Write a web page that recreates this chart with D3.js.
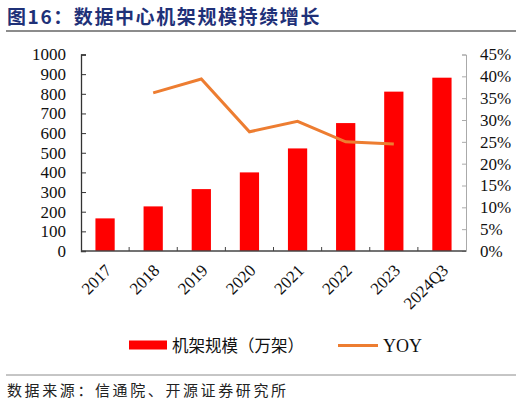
<!DOCTYPE html>
<html>
<head>
<meta charset="utf-8">
<script src="https://cdn.jsdelivr.net/npm/d3@7"></script>
<style>
  body { margin: 0; background: #fff; }
  svg text { font-family: "Liberation Serif", "Noto Sans CJK SC", serif; }
</style>
</head>
<body>
<div id="container"></div>
<script>
// Data
var categories = ['2017', '2018', '2019', '2020', '2021', '2022', '2023', '2024Q3'];
var rackValues = [166, 227, 315, 400, 522, 651, 811, 882];
var yoyCategories = ['2018', '2019', '2020', '2021', '2022', '2023'];
var yoyValues = [0.362, 0.394, 0.273, 0.297, 0.250, 0.245];
var leftTicks = [0, 100, 200, 300, 400, 500, 600, 700, 800, 900, 1000];
var rightTicks = [0, 0.05, 0.10, 0.15, 0.20, 0.25, 0.30, 0.35, 0.40, 0.45];

var WIDTH = 522,
    HEIGHT = 405;

var plot = { left: 81, right: 466, top: 54.5, bottom: 251 };

var svg = d3.select('#container')
    .append('svg')
    .attr('width', WIDTH)
    .attr('height', HEIGHT);

// Title and rules
svg.append('text')
    .attr('x', 7)
    .attr('y', 24)
    .attr('fill', '#1F3178')
    .style('font-family', '"Noto Sans CJK SC", sans-serif')
    .style('font-weight', 'bold')
    .style('font-size', '19px')
    .style('letter-spacing', '1.6px')
    .text('图16：数据中心机架规模持续增长');

svg.append('line')
    .attr('x1', 6).attr('x2', 516)
    .attr('y1', 31).attr('y2', 31)
    .attr('stroke', '#8c8c8c')
    .attr('stroke-width', 2);

svg.append('line')
    .attr('x1', 6).attr('x2', 516)
    .attr('y1', 375).attr('y2', 375)
    .attr('stroke', '#8c8c8c')
    .attr('stroke-width', 1);

svg.append('text')
    .attr('x', 7)
    .attr('y', 396)
    .attr('fill', '#222')
    .style('font-family', '"Noto Sans CJK SC", sans-serif')
    .style('font-size', '15px')
    .style('letter-spacing', '2.6px')
    .text('数据来源：信通院、开源证券研究所');

// Scales
var x = d3.scaleBand()
    .domain(categories)
    .range([plot.left, plot.right])
    .paddingInner(0.6)
    .paddingOuter(0.3);

var xTicks = d3.scaleLinear()
    .domain([0, categories.length])
    .range([plot.left, plot.right]);

var yLeft = d3.scaleLinear()
    .domain([0, 1000])
    .range([plot.bottom, plot.top]);

var yRight = d3.scaleLinear()
    .domain([0, 0.45])
    .range([plot.bottom, plot.top]);

// Bars
svg.selectAll('.bar')
    .data(rackValues)
    .enter()
    .append('rect')
    .attr('class', 'bar')
    .attr('x', function(d, i) { return x(categories[i]); })
    .attr('width', x.bandwidth())
    .attr('y', function(d) { return yLeft(d); })
    .attr('height', function(d) { return yLeft(0) - yLeft(d); })
    .attr('fill', '#FF0000');

// Left axis
var leftAxis = svg.append('g')
    .attr('transform', 'translate(' + plot.left + ',0)')
    .call(d3.axisLeft(yLeft).tickValues(leftTicks).tickSize(-5).tickPadding(15)
        .tickFormat(d3.format('d')));
leftAxis.select('.domain').attr('stroke', '#333').attr('stroke-width', 1.3);
leftAxis.selectAll('.tick line').attr('stroke', '#333');
leftAxis.selectAll('text')
    .style('font-size', '17px')
    .style('font-family', '"Liberation Serif", serif')
    .attr('fill', '#111');

// Right axis
var rightAxis = svg.append('g')
    .attr('transform', 'translate(' + plot.right + ',0)')
    .call(d3.axisRight(yRight).tickValues(rightTicks).tickSize(-4).tickPadding(14)
        .tickFormat(function(d) { return Math.round(d * 100) + '%'; }));
rightAxis.select('.domain').attr('stroke', '#aaa').attr('stroke-width', 1);
rightAxis.selectAll('.tick line').attr('stroke', '#aaa');
rightAxis.selectAll('text')
    .style('font-size', '17px')
    .style('font-family', '"Liberation Serif", serif')
    .attr('fill', '#111');

// X axis
var xAxis = svg.append('g')
    .attr('transform', 'translate(0,' + plot.bottom + ')');
xAxis.append('line')
    .attr('x1', plot.left).attr('x2', plot.right)
    .attr('stroke', '#444').attr('stroke-width', 1.3);
xAxis.selectAll('.xtick')
    .data(d3.range(1, categories.length))
    .enter()
    .append('line')
    .attr('x1', function(d) { return xTicks(d); })
    .attr('x2', function(d) { return xTicks(d); })
    .attr('y1', 0).attr('y2', -4)
    .attr('stroke', '#444');
xAxis.selectAll('.xlabel')
    .data(categories)
    .enter()
    .append('text')
    .attr('transform', function(d) {
        return 'translate(' + (x(d) + x.bandwidth() / 2 - 1) + ',12) rotate(-45)';
    })
    .attr('text-anchor', 'end')
    .attr('dy', '0.7em')
    .style('font-size', '17px')
    .style('font-family', '"Liberation Serif", serif')
    .attr('fill', '#111')
    .text(function(d) { return d; });

// YOY line
var line = d3.line()
    .x(function(d, i) { return x(yoyCategories[i]) + x.bandwidth() / 2; })
    .y(function(d) { return yRight(d); });

svg.append('path')
    .datum(yoyValues)
    .attr('d', line)
    .attr('fill', 'none')
    .attr('stroke', '#ED7D31')
    .attr('stroke-width', 3);

// Legend
var legend = svg.append('g');
legend.append('rect')
    .attr('x', 129).attr('y', 340.5)
    .attr('width', 38).attr('height', 9)
    .attr('fill', '#FF0000');
legend.append('text')
    .attr('x', 172).attr('y', 352)
    .attr('fill', '#111')
    .style('font-family', '"Noto Sans CJK SC", sans-serif')
    .style('font-size', '16.5px')
    .text('机架规模（万架）');
legend.append('line')
    .attr('x1', 338).attr('x2', 378)
    .attr('y1', 345.5).attr('y2', 345.5)
    .attr('stroke', '#ED7D31')
    .attr('stroke-width', 3);
legend.append('text')
    .attr('x', 383).attr('y', 352)
    .attr('fill', '#111')
    .style('font-family', '"Liberation Serif", serif')
    .style('font-size', '18px')
    .text('YOY');
</script>
</body>
</html>
